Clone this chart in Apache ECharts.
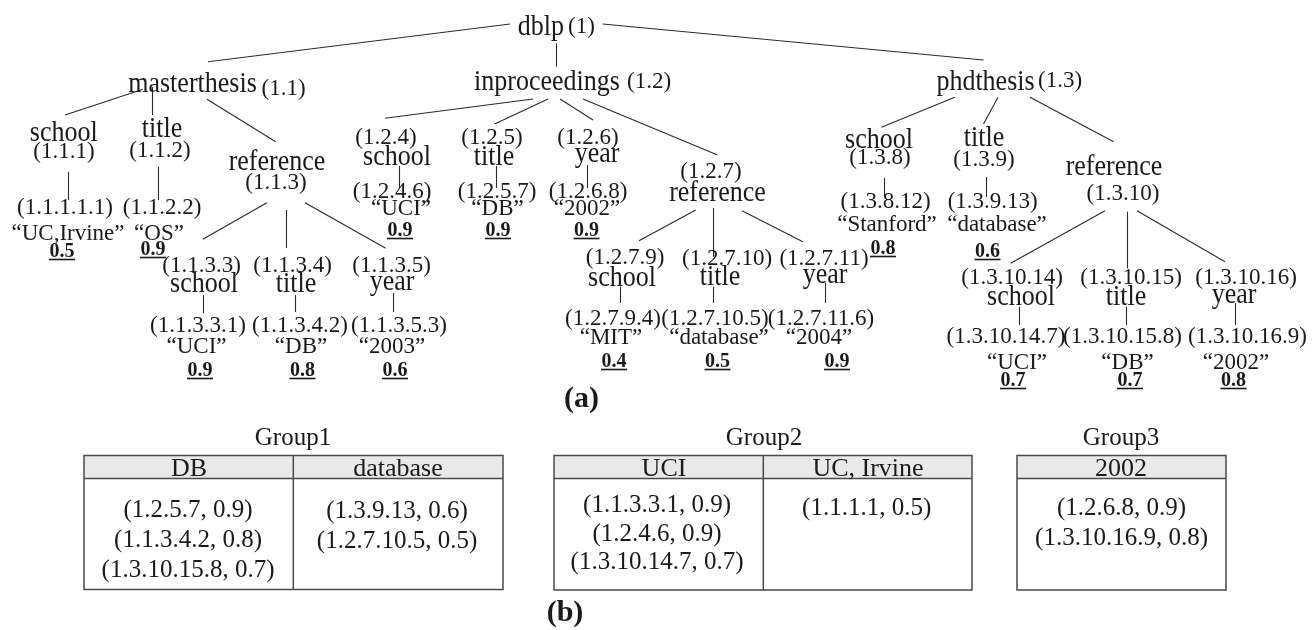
<!DOCTYPE html>
<html><head><meta charset="utf-8">
<script src="https://cdn.jsdelivr.net/npm/echarts/dist/echarts.min.js"></script>
<style>html,body{margin:0;padding:0;background:#fff}#c{width:1312px;height:630px}</style>
</head><body><div id="c"></div>
<script>
// ================= DATA (content) =================
const wordLabels = ['dblp','masterthesis','inproceedings','phdthesis',
  'school','title','reference',
  'school','title','year','reference',
  'school','title','year',
  'school','title','year',
  'school','title','reference',
  'school','title','year'];
const idLabels = ['(1)','(1.1)','(1.2)','(1.3)',
  '(1.1.1)','(1.1.2)','(1.1.3)',
  '(1.2.4)','(1.2.5)','(1.2.6)','(1.2.7)',
  '(1.1.1.1.1)','(1.1.2.2)',
  '(1.2.4.6)','(1.2.5.7)','(1.2.6.8)',
  '(1.1.3.3)','(1.1.3.4)','(1.1.3.5)',
  '(1.2.7.9)','(1.2.7.10)','(1.2.7.11)',
  '(1.1.3.3.1)','(1.1.3.4.2)','(1.1.3.5.3)',
  '(1.2.7.9.4)','(1.2.7.10.5)','(1.2.7.11.6)',
  '(1.3.8)','(1.3.9)','(1.3.10)',
  '(1.3.8.12)','(1.3.9.13)',
  '(1.3.10.14)','(1.3.10.15)','(1.3.10.16)',
  '(1.3.10.14.7)','(1.3.10.15.8)','(1.3.10.16.9)'];
const valueLabels = ['\u201cUC,Irvine\u201d','\u201cOS\u201d',
  '\u201cUCI\u201d','\u201cDB\u201d','\u201c2002\u201d',
  '\u201cUCI\u201d','\u201cDB\u201d','\u201c2003\u201d',
  '\u201cMIT\u201d','\u201cdatabase\u201d','\u201c2004\u201d',
  '\u201cStanford\u201d','\u201cdatabase\u201d',
  '\u201cUCI\u201d','\u201cDB\u201d','\u201c2002\u201d'];
const scoreValues = [0.5,0.9, 0.9,0.9,0.9, 0.9,0.8,0.6, 0.4,0.5,0.9, 0.8,0.6, 0.7,0.7,0.8];
const panelLabels = ['(a)','(b)'];

const groupTitles = ['Group1','Group2','Group3'];
const groupKeys = [['DB','database'],['UCI','UC, Irvine'],['2002']];
const groupEntries = [
  [[['1.2.5.7',0.9],['1.1.3.4.2',0.8],['1.3.10.15.8',0.7]], [['1.3.9.13',0.6],['1.2.7.10.5',0.5]]],
  [[['1.1.3.3.1',0.9],['1.2.4.6',0.9],['1.3.10.14.7',0.7]], [['1.1.1.1',0.5]]],
  [[['1.2.6.8',0.9],['1.3.10.16.9',0.8]]]
];

// ================= LAYOUT (positions: [centerX, baselineY]) =================
const wordPos = [[540.8,33],[192.5,90],[547,88],[985.5,88],
  [63.7,139],[162,135],[277,168],
  [397,163],[494,163],[597,160],[717.5,199],
  [204,290],[296,290],[392,288],
  [622,284],[720,283],[825,281],
  [879,146],[984,144],[1114,173],
  [1021,303],[1126,303],[1234,301]];
const idPos = [[581.5,32],[283.5,94],[649,87],[1060,86],
  [64,157],[160,156],[276,188],
  [386,143],[492,143],[588,143],[711,177],
  [65,213],[162,213],
  [392,197],[497,197],[588,197],
  [201.5,271],[292.5,271],[391.5,271],
  [625,263],[727,264],[824,264],
  [198,331],[300,331],[399,331],
  [613,324],[715,324],[821,324],
  [880,163],[984,165],[1123,199],
  [885.6,207],[992.7,207],
  [1012,283],[1131,283],[1246,283],
  [1006,342],[1122.5,342],[1247.5,342]];
const valuePos = [[68,239],[159,239],
  [401,214],[497.5,214],[587,214],
  [196.5,352],[301,352],[392,352],
  [611,343],[719,343],[819,343],
  [887,230],[997,230],
  [1017,368],[1127.5,368],[1236,368]];
const scorePos = [[62,256],[153,254],
  [400,235],[498,235],[586.5,235],
  [200,375],[302.5,375],[395,375],
  [614,366],[717.5,366],[837,366],
  [883,253],[987.5,256],
  [1013,385],[1130,385],[1233.5,385]];
const panelPos = [[581.5,405],[565,619]];
const edgeSegments = [
  [510,24,208,61.7],[556,43.3,556,66.7],[602.7,24,983.5,60],
  [143,89.3,65,115],[152.4,87,152.4,115],[207,99.3,275.7,141.7],
  [533,99,385,118.3],[548,99,494.6,124],[560,99,593,120],[583,99,717.5,155],
  [68.6,171.7,68.6,200],[157.8,166.7,157.8,200],
  [267,202.7,202.8,239.3],[286.4,210,286.4,248],[305,202.7,385.7,248.3],
  [202.8,295,202.8,313.3],[295.7,295,295.7,312],[393.6,293,393.6,312],
  [399,166,399,188],[495.8,166,495.8,188],[587,165,587,188],
  [695.7,210,639,240.7],[713.7,208,713.7,256.7],[742,210.7,802.9,241.7],
  [620.7,286.7,620.7,303],[713.7,286.7,713.7,303],[825,283,825,303],
  [954.8,97.3,881.4,127.3],[998,97.3,983.5,124],[1030,97.3,1113.6,141.7],
  [884,178,884,197],[986.5,177,986.5,197],
  [1105,210.7,1010.7,263.3],[1127.7,211.7,1127.7,268.3],[1137,210.7,1225,261.7],
  [1019.3,306.7,1019.3,325],[1126.4,306.7,1126.4,325],[1235,303,1235,325]
];
// tables: [x0, x1, top, headerBottom, bottom]
const tableFrames = [[84,503,455.5,478.5,589.5],[554,972,455.5,478.5,590],[1017,1226,455.5,478.5,590]];
const tableDividers = [[293.3],[763.3],[]];
const titleAnchors = [[293,443],[764,443],[1121,443]];
const keyAnchors = [[[189,474.5],[398,474.5]],[[664,474.5],[868,474.5]],[[1121,474.5]]];
const entryColX = [[188,397],[657,866.7],[1121.5]];
const entryRowY = [[[515.5,545.5,575.5],[516,546]],[[510.6,539,567.3],[513]],[[513,543]]];

// ================= STYLES =================
const SERIF = '"Liberation Serif","Times New Roman",serif';
const INK = '#1a1a1a';
const MID = 0.2; // baseline -> middle offset (em)
const STY = {
  word:  {size:26, weight:'normal', sy:1.12},
  id:    {size:23, weight:'normal', sy:1.0},
  value: {size:23, weight:'normal', sy:1.0},
  score: {size:20, weight:'bold', sy:1.0},
  panel: {size:30, weight:'bold', sy:1.0},
  title: {size:25, weight:'normal', sy:1.0},
  key:   {size:26, weight:'normal', sy:1.0},
  entry: {size:25, weight:'normal', sy:1.0}
};
const fontOf = st => `${st.weight} ${st.size}px ${SERIF}`;
const mctx = document.createElement('canvas').getContext('2d');
function measure(t, st){ mctx.font = fontOf(st); return mctx.measureText(t).width; }
function textEl(px, pyBase, text, st){
  const off = MID * st.size * st.sy;
  return {type:'text', x:px, y:pyBase - off, scaleY:st.sy,
    style:{text:text, font:fontOf(st), fill:INK, align:'center', verticalAlign:'middle'}};
}
function textSeries(labels, pos, st){
  return {type:'custom', coordinateSystem:'cartesian2d', data:pos, silent:true, animation:false, z:5,
    renderItem:(params, api) => {
      const p = api.coord([api.value(0), api.value(1)]);
      return textEl(p[0], p[1], labels[params.dataIndex], st);
    }};
}

const scoreSeries = {type:'custom', coordinateSystem:'cartesian2d', data:scorePos, silent:true, animation:false, z:5,
  renderItem:(params, api) => {
    const p = api.coord([api.value(0), api.value(1)]);
    const t = scoreValues[params.dataIndex].toFixed(1);
    const w = measure(t, STY.score);
    return {type:'group', children:[
      textEl(p[0], p[1], t, STY.score),
      {type:'line', shape:{x1:p[0]-w/2-0.5, y1:p[1]+3.5, x2:p[0]+w/2+0.5, y2:p[1]+3.5}, style:{stroke:INK, lineWidth:1.6}}
    ]};
  }};

const edgeSeries = {type:'lines', coordinateSystem:'cartesian2d', silent:true, animation:false, z:3,
  data: edgeSegments.map(s => ({coords:[[s[0],s[1]],[s[2],s[3]]]})),
  lineStyle:{color:'#2b2b2b', width:1.1, opacity:1}};

const BORDER = '#4a4a4a';
const tableSeries = {type:'custom', coordinateSystem:'cartesian2d', silent:true, animation:false, z:4,
  data: tableFrames.map(f => [f[0], f[2]]),
  renderItem:(params, api) => {
    const g = params.dataIndex, f = tableFrames[g];
    const c = (x, y) => api.coord([x, y]);
    const tl = c(f[0], f[2]), br = c(f[1], f[4]), hb = c(f[1], f[3]);
    const ch = [];
    ch.push({type:'rect', shape:{x:tl[0], y:tl[1], width:br[0]-tl[0], height:hb[1]-tl[1]}, style:{fill:'#e9eae8'}});
    ch.push({type:'rect', shape:{x:tl[0], y:tl[1], width:br[0]-tl[0], height:br[1]-tl[1]}, style:{fill:'none', stroke:BORDER, lineWidth:1.5}});
    ch.push({type:'line', shape:{x1:tl[0], y1:hb[1], x2:br[0], y2:hb[1]}, style:{stroke:BORDER, lineWidth:1.5}});
    tableDividers[g].forEach(dx => {
      const d = c(dx, f[2]);
      ch.push({type:'line', shape:{x1:d[0], y1:tl[1], x2:d[0], y2:br[1]}, style:{stroke:BORDER, lineWidth:1.5}});
    });
    const ta = c(titleAnchors[g][0], titleAnchors[g][1]);
    ch.push(textEl(ta[0], ta[1], groupTitles[g], STY.title));
    groupKeys[g].forEach((k, j) => {
      const ka = c(keyAnchors[g][j][0], keyAnchors[g][j][1]);
      ch.push(textEl(ka[0], ka[1], k, STY.key));
    });
    groupEntries[g].forEach((col, j) => {
      col.forEach((e, r) => {
        const ea = c(entryColX[g][j], entryRowY[g][j][r]);
        ch.push(textEl(ea[0], ea[1], '(' + e[0] + ', ' + e[1].toFixed(1) + ')', STY.entry));
      });
    });
    return {type:'group', children:ch};
  }};

const chart = echarts.init(document.getElementById('c'), null, {renderer:'canvas'});
chart.setOption({
  backgroundColor:'#ffffff',
  animation:false,
  grid:{left:0, right:0, top:0, bottom:0},
  xAxis:{type:'value', min:0, max:1312, show:false},
  yAxis:{type:'value', min:0, max:630, inverse:true, show:false},
  series:[
    edgeSeries,
    textSeries(wordLabels, wordPos, STY.word),
    textSeries(idLabels, idPos, STY.id),
    textSeries(valueLabels, valuePos, STY.value),
    scoreSeries,
    textSeries(panelLabels, panelPos, STY.panel),
    tableSeries
  ]
});
</script></body></html>
